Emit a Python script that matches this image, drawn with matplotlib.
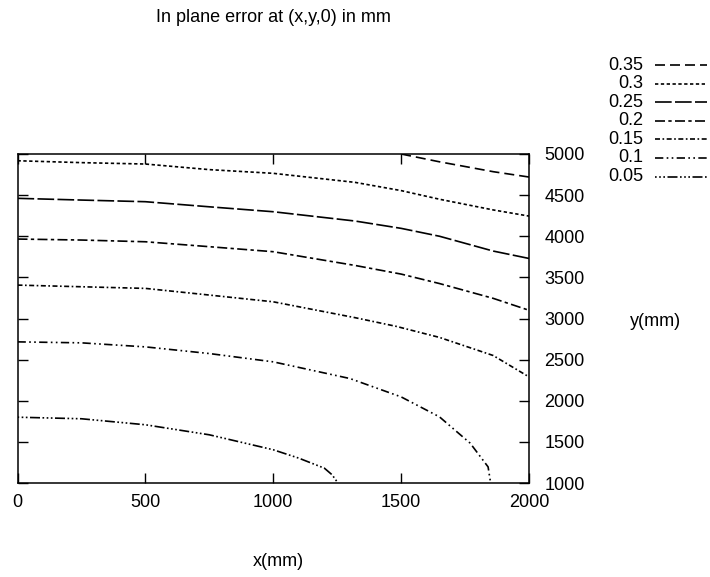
import matplotlib
matplotlib.use("Agg")
import matplotlib.pyplot as plt
from matplotlib.lines import Line2D
import numpy as np

plt.rcParams['font.family'] = ['Liberation Sans', 'DejaVu Sans']

# --- contour lines (x mm, y mm) ---
niveles = ["0.35", "0.3", "0.25", "0.2", "0.15", "0.1", "0.05"]

x_035 = np.array([1500, 1650, 1860, 2000])
y_035 = np.array([5000, 4905, 4785, 4720])

x_030 = np.array([0, 250, 500, 750, 1000, 1320, 1500, 1650, 1860, 2000])
y_030 = np.array([4918, 4895, 4878, 4810, 4765, 4655, 4555, 4450, 4320, 4245])

x_025 = np.array([0, 250, 500, 750, 1000, 1320, 1500, 1650, 1860, 2000])
y_025 = np.array([4461, 4440, 4420, 4358, 4298, 4185, 4096, 4000, 3820, 3730])

x_020 = np.array([0, 250, 500, 750, 1000, 1320, 1500, 1650, 1860, 2000])
y_020 = np.array([3966, 3954, 3933, 3873, 3812, 3645, 3540, 3425, 3245, 3100])

x_015 = np.array([0, 250, 500, 750, 1000, 1320, 1480, 1650, 1860, 2000])
y_015 = np.array([3406, 3386, 3366, 3285, 3203, 3010, 2905, 2770, 2550, 2290])

x_010 = np.array([0, 250, 500, 750, 1000, 1300, 1500, 1650, 1770, 1840, 1850])
y_010 = np.array([2716, 2704, 2655, 2574, 2473, 2270, 2047, 1804, 1484, 1196, 1000])

x_005 = np.array([0, 250, 500, 750, 1000, 1100, 1200, 1230, 1253])
y_005 = np.array([1800, 1781, 1708, 1586, 1404, 1302, 1180, 1100, 1000])

curvas = [(x_035, y_035), (x_030, y_030), (x_025, y_025), (x_020, y_020),
          (x_015, y_015), (x_010, y_010), (x_005, y_005)]

# gnuplot-like dash patterns, one per level
estilos = [(0, (6, 3)),
           (0, (2, 1.5)),
           (0, (10, 2)),
           (0, (6, 2, 2, 2)),
           (0, (3, 1.5, 1, 1.5)),
           (0, (5, 2, 1, 2, 1, 2)),
           (0, (1, 1.5, 1, 1.5, 1, 1.5, 6, 1.5))]

W, H = 710, 577
fig = plt.figure(figsize=(W / 100, H / 100), dpi=100)
ax = fig.add_axes([17.5 / W, 94 / H, 511.5 / W, 329 / H])

for (cx, cy), ls in zip(curvas, estilos):
    ax.plot(cx, cy, color='black', linestyle=ls, linewidth=1.2)

ax.set_xlim(0, 2000)
ax.set_ylim(1000, 5000)
ax.set_xticks(np.arange(0, 2001, 500))
ax.set_yticks(np.arange(1000, 5001, 500))
ax.tick_params(axis='x', direction='in', top=True, bottom=True, labeltop=False,
               length=7, width=1, pad=8, labelsize=13)
ax.tick_params(axis='y', direction='in', left=True, right=True, labelleft=False,
               labelright=True, length=7, width=1, pad=11, labelsize=13)
for s in ax.spines.values():
    s.set_linewidth(1.1)

fig.text(273 / W, 1 - 18 / H, "In plane error at (x,y,0) in mm",
         ha='center', va='center', fontsize=13)
fig.text(278 / W, 1 - 562 / H, "x(mm)", ha='center', va='center', fontsize=13)
fig.text(655 / W, 1 - 322 / H, "y(mm)", ha='center', va='center', fontsize=13)

# legend drawn by hand: labels right-aligned, sample to the right
for i, (lab, ls) in enumerate(zip(niveles, estilos)):
    yy = 1 - (65 + i * 18.6) / H
    fig.text(643 / W, yy, lab, ha='right', va='center', fontsize=13)
    fig.add_artist(Line2D([655 / W, 707 / W], [yy, yy], transform=fig.transFigure,
                          color='black', linestyle=ls, linewidth=1.2))

fig.savefig("out.png", dpi=100)
